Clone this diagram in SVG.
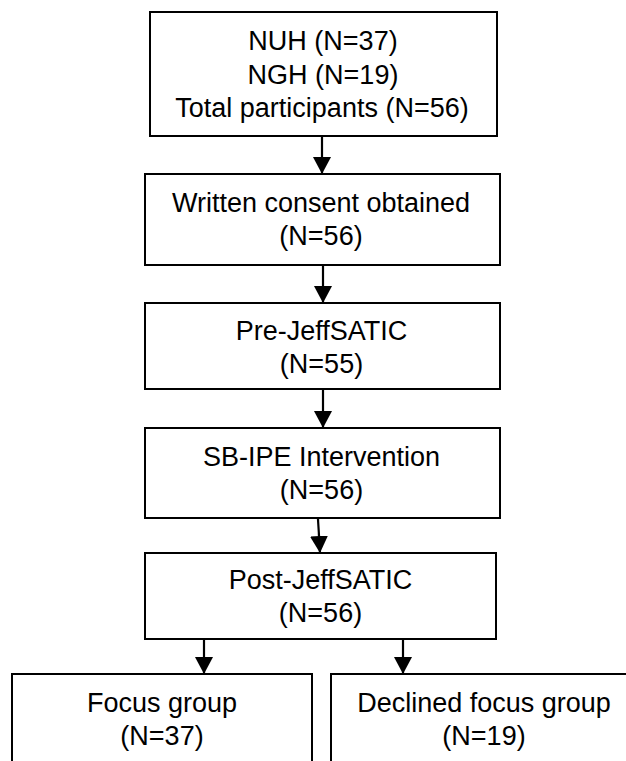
<svg xmlns="http://www.w3.org/2000/svg" width="626" height="761" viewBox="0 0 626 761">
  <style>
    .box { fill: #ffffff; stroke: #000000; stroke-width: 2; }
    .lbl { font-family: "Liberation Sans", Arial, sans-serif; font-size: 27px; fill: #000000; text-anchor: middle; }
    .conn { stroke: #000000; stroke-width: 2.2; fill: none; marker-end: url(#arrow); }
  </style>
  <defs>
    <marker id="arrow" markerUnits="userSpaceOnUse" viewBox="0 0 18 18" markerWidth="18" markerHeight="18" refX="17" refY="9" orient="auto">
      <path d="M0,0 L17,9 L0,18 z" fill="#000000"/>
    </marker>
  </defs>
  <rect width="626" height="761" fill="#ffffff"/>

  <g id="n1">
    <rect class="box" x="150" y="12" width="347" height="124"/>
    <text class="lbl" x="323" y="50">NUH (N=37)</text>
    <text class="lbl" x="323" y="83.5">NGH (N=19)</text>
    <text class="lbl" x="322" y="117">Total participants (N=56)</text>
  </g>
  <g id="n2">
    <rect class="box" x="145" y="174" width="355" height="91"/>
    <text class="lbl" x="321" y="212">Written consent obtained</text>
    <text class="lbl" x="321" y="245">(N=56)</text>
  </g>
  <g id="n3">
    <rect class="box" x="145" y="303" width="355" height="86"/>
    <text class="lbl" x="321.5" y="339.5">Pre-JeffSATIC</text>
    <text class="lbl" x="321.5" y="372.5">(N=55)</text>
  </g>
  <g id="n4">
    <rect class="box" x="145" y="428" width="355" height="90"/>
    <text class="lbl" x="321.5" y="466">SB-IPE Intervention</text>
    <text class="lbl" x="321.5" y="499">(N=56)</text>
  </g>
  <g id="n5">
    <rect class="box" x="145" y="553" width="351" height="86"/>
    <text class="lbl" x="320.5" y="589">Post-JeffSATIC</text>
    <text class="lbl" x="320.5" y="622">(N=56)</text>
  </g>
  <g id="n6">
    <rect class="box" x="12" y="674" width="300" height="120"/>
    <text class="lbl" x="162" y="712">Focus group</text>
    <text class="lbl" x="162" y="745">(N=37)</text>
  </g>
  <g id="n7">
    <rect class="box" x="331" y="674" width="310" height="120"/>
    <text class="lbl" x="484" y="712">Declined focus group</text>
    <text class="lbl" x="484" y="745">(N=19)</text>
  </g>

  <g id="connectors">
    <line class="conn" x1="322" y1="137" x2="322" y2="174"/>
    <line class="conn" x1="323" y1="266" x2="323" y2="303"/>
    <line class="conn" x1="323" y1="390" x2="323" y2="428"/>
    <line class="conn" x1="318" y1="519" x2="320" y2="553"/>
    <line class="conn" x1="204" y1="640" x2="204" y2="674"/>
    <line class="conn" x1="403" y1="640" x2="403" y2="674"/>
  </g>
</svg>
